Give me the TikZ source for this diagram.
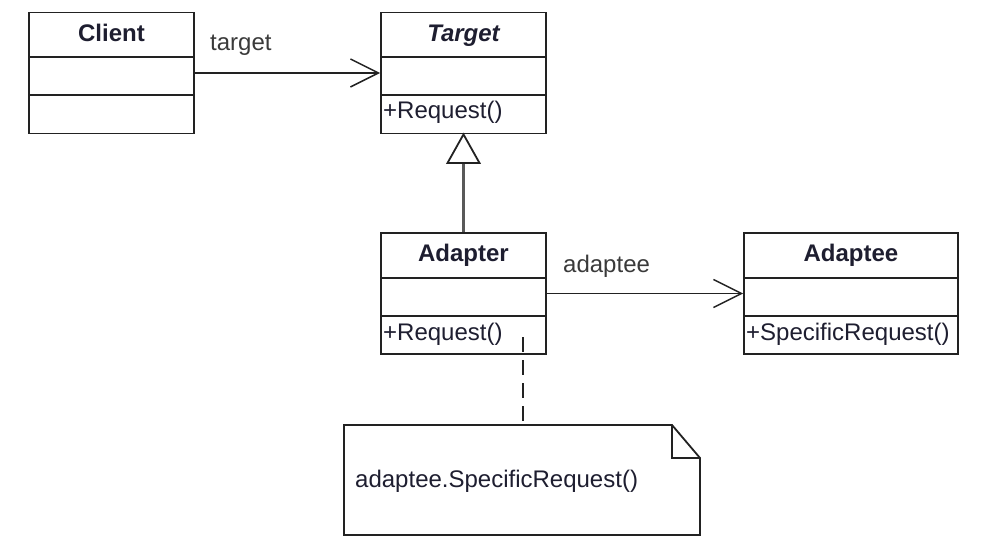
\documentclass[tikz,border=0pt]{standalone}
\usepackage{fontspec}
\setmainfont{Liberation Sans}
\usetikzlibrary{arrows.meta}
\definecolor{ink}{HTML}{1E1E30}
\definecolor{lbl}{HTML}{3A3A3A}
\definecolor{edge}{HTML}{222222}
\begin{document}
\begin{tikzpicture}[x=1pt,y=-1pt,
  box/.style={draw=edge, line width=1.8pt, inner sep=0pt, minimum width=#1, minimum height=121pt},
  div/.style={draw=edge, line width=1.6pt},
  title/.style={inner sep=0pt, anchor=base, text=ink, font=\fontsize{24}{28}\selectfont\bfseries},
  member/.style={inner sep=0pt, anchor=base west, text=ink, font=\fontsize{24}{28}\selectfont},
  rolelbl/.style={inner sep=0pt, anchor=base west, text=lbl, font=\fontsize{24}{28}\selectfont},
  assoc/.style={draw=edge, line width=1.5pt, -{Straight Barb[length=28pt, width=28pt, line width=1.5pt]}},
  gen/.style={draw=black!65, line width=3pt},
  note/.style={draw=edge, line width=1.8pt, fill=white},
  anchorline/.style={draw=edge, line width=1.6pt, dash pattern=on 15pt off 8pt}
]
\useasboundingbox (0,0) rectangle (1002,548);

% Client
\node[box=165pt] (client) at (111.5,73) {};
\draw[div] (29,57) -- (194,57);
\draw[div] (29,95) -- (194,95);
\node[title] (clientname) at (111.5,42) {Client};

% Target
\node[box=165pt] (target) at (463.5,73) {};
\draw[div] (381,57) -- (546,57);
\draw[div] (381,95) -- (546,95);
\node[title] (targetname) at (463.5,42) {\itshape Target};
\node[member] (targetop) at (383,119) {+Request()};

% Adapter
\node[box=165pt] (adapter) at (463.5,293.5) {};
\draw[div] (381,278) -- (546,278);
\draw[div] (381,316) -- (546,316);
\node[title] (adaptername) at (463.5,262) {Adapter};
\node[member] (adapterop) at (383,340) {+Request()};

% Adaptee
\node[box=214pt] (adaptee) at (851,293.5) {};
\draw[div] (744,278) -- (958,278);
\draw[div] (744,316) -- (958,316);
\node[title] (adapteename) at (851,262) {Adaptee};
\node[member] (adapteeop) at (746,340) {+SpecificRequest()};

% associations
\draw[assoc] (client.east) -- (target.west);
\node[rolelbl] (targetrole) at (210,51) {target};
\draw[assoc] (adapter.east) -- (adaptee.west);
\node[rolelbl] (adapteerole) at (563,273) {adaptee};

% generalization
\coordinate (tribase) at (463.5,163);
\draw[gen] (adapter.north) -- (tribase);
\draw[draw=edge, line width=1.8pt, fill=white, line join=miter]
  (target.south) -- (479.5,163) -- (447.5,163) -- cycle;

% note
\coordinate (notetop) at (523,425);
\coordinate (anchorstart) at (523,337);
\draw[anchorline] (anchorstart) -- (notetop);
\draw[note] (344,425) -- (672,425) -- (700,458) -- (700,535) -- (344,535) -- cycle;
\draw[div] (672,425) -- (672,458) -- (700,458);
\node[member] (notetext) at (355,487) {adaptee.SpecificRequest()};
\end{tikzpicture}
\end{document}
